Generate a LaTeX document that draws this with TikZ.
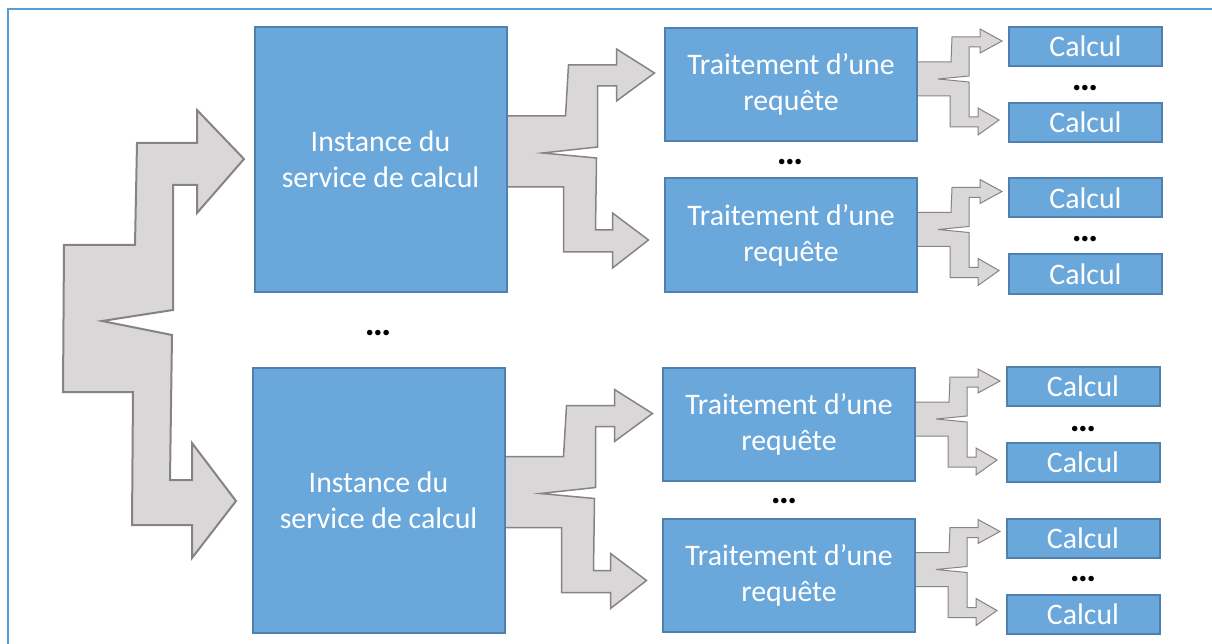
\documentclass[tikz,border=0pt]{standalone}
\usepackage{fontspec}
\setmainfont{Carlito}
\usetikzlibrary{positioning,backgrounds}

\definecolor{boxfill}{RGB}{106,168,220}
\definecolor{boxline}{RGB}{80,128,176}
\definecolor{forkfill}{RGB}{217,215,216}
\definecolor{forkline}{RGB}{136,131,131}
\definecolor{framecol}{RGB}{91,155,213}

\tikzset{
  box/.style={draw=boxline, line width=2pt, fill=boxfill, text=white, align=center, inner sep=0pt, font=\fontsize{29.8}{36}\selectfont},
  instbox/.style={box, minimum width=252pt, minimum height=265pt},
  reqbox/.style={box, minimum width=252pt, minimum height=113pt},
  calcbox/.style={box, minimum width=153pt, minimum height=39pt},
  dots/.style={font=\fontsize{37}{37}\selectfont\bfseries, inner sep=0pt},
  fork/.style={draw=forkline, fill=forkfill, line width=1.5pt, line join=miter}
}

% fork from an instance to two requests
\newcommand{\midfork}[1]{%
  \draw[fork, shift={(#1)}] (-4,-43.5) -- (58,-43.5) -- (61,-94.5) -- (109,-94.5) -- (109,-110.5) -- (147,-86.5) -- (109,-58.5) -- (109,-73.5) -- (90,-73.5) -- (90,-12.5) -- (35,-6.5) -- (89,-1.5) -- (88,70.5) -- (105,70.5) -- (105,53.5) -- (141,80.5) -- (105,108.5) -- (105,92.5) -- (56,92.5) -- (56,27.5) -- (-4,27.5) -- cycle;}
% fork from a request to two calculations
\newcommand{\smallfork}[1]{%
  \draw[fork, line width=1pt, shift={(#1)}] (-4,-22.5) -- (33,-22.5) -- (34,-47.5) -- (62,-47.5) -- (62,-55.5) -- (84,-43.5) -- (62,-31.5) -- (62,-37.5) -- (51,-37.5) -- (51,-8.5) -- (20,-5.5) -- (51,-2.5) -- (51,32.5) -- (60,32.5) -- (60,23.5) -- (81,35.5) -- (60,50.5) -- (60,42.5) -- (32,42.5) -- (32,11.5) -- (-4,11.5) -- cycle;}

\begin{document}
\begin{tikzpicture}[x=1pt, y=-1pt]
    \useasboundingbox (0,0) rectangle (1212,644);
    % Frame
    \draw[framecol, line width=2pt] (8,650) -- (8,9) -- (1220,9);
    % Instances
    \node[instbox] (inst1) at (380.5,159.5) {Instance du\\service de calcul};
    \node[instbox] (inst2) at (378.5,500) {Instance du\\service de calcul};
    \node[dots] (instdots) at (378,333) {…};
    % Requests
    \node[reqbox] (req1) at (791,84.5) {Traitement d’une\\requête};
    \node[reqbox] (req2) at (791,235) {Traitement d’une\\requête};
    \node[reqbox] (req3) at (789,424.5) {Traitement d’une\\requête};
    \node[reqbox] (req4) at (789,575) {Traitement d’une\\requête};
    \node[dots] (reqdots1) at (790,162) {…};
    \node[dots] (reqdots2) at (784,501) {…};
    % Calculations
    \node[calcbox] (calc1a) at (1085.5,46.5) {Calcul};
    \node[calcbox] (calc1b) at (1085.5,122.5) {Calcul};
    \node[calcbox] (calc2a) at (1085.5,198) {Calcul};
    \node[calcbox] (calc2b) at (1085.5,274) {Calcul};
    \node[calcbox] (calc3a) at (1083,386.5) {Calcul};
    \node[calcbox] (calc3b) at (1083,462.5) {Calcul};
    \node[calcbox] (calc4a) at (1083,538.5) {Calcul};
    \node[calcbox] (calc4b) at (1083,614.5) {Calcul};
    \node[dots] (calcdots1) at (1085,88) {…};
    \node[dots] (calcdots2) at (1085,239) {…};
    \node[dots] (calcdots3) at (1083,429) {…};
    \node[dots] (calcdots4) at (1083,579) {…};
    % Forks
    \begin{scope}[on background layer]
        \draw[fork, line width=2pt] (244,159) -- (197,213) -- (197,185) -- (173,185) -- (173,310) -- (102,321) -- (172,335) -- (170,480) -- (192,480) -- (192,443) -- (236,501) -- (192,558) -- (192,525) -- (132,525) -- (133,392) -- (63,392) -- (64,245) -- (135,245) -- (137,143) -- (197,143) -- (197,110) -- cycle;
        \midfork{inst1.east}
        \midfork{inst2.east}
        \smallfork{req1.east}
        \smallfork{req2.east}
        \smallfork{req3.east}
        \smallfork{req4.east}
    \end{scope}
\end{tikzpicture}
\end{document}
